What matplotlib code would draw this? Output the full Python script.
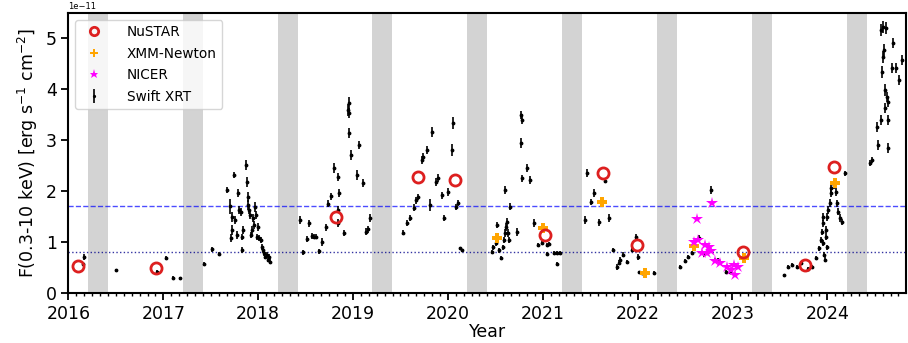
import numpy as np
import matplotlib
matplotlib.use('Agg')
import matplotlib.pyplot as plt
from matplotlib.ticker import MultipleLocator, FormatStrFormatter

# fluxes in units of 1e-11 erg/s/cm2, time in decimal years
nustar_t = [2016.10, 2016.92, 2018.82, 2019.68, 2020.07, 2021.02, 2021.64, 2021.99, 2023.11, 2023.77, 2024.07]
nustar_f = [0.53, 0.49, 1.49, 2.27, 2.22, 1.14, 2.35, 0.94, 0.80, 0.55, 2.47]

xmm_t = [2020.52, 2021.00, 2021.63, 2022.08, 2022.59, 2023.12, 2024.08]
xmm_f = [1.08, 1.27, 1.78, 0.39, 0.92, 0.69, 2.15]

nicer_t = [2022.59, 2022.63, 2022.78, 2022.64, 2022.68, 2022.75, 2022.73, 2022.82,
           2022.87, 2022.94, 2022.99, 2023.03, 2023.06, 2023.02, 2022.71, 2022.77]
nicer_f = [1.00, 1.45, 1.77, 1.04, 0.78, 0.90, 0.78, 0.63,
           0.59, 0.51, 0.45, 0.35, 0.51, 0.55, 0.95, 0.82]

swift_t = [2016.15, 2016.16, 2016.50, 2016.93, 2017.03, 2017.10, 2017.18, 2017.43, 2017.51, 2017.59,
           2017.67, 2017.75, 2017.70, 2017.72, 2017.72, 2017.71, 2017.76, 2017.78, 2017.79, 2017.80,
           2017.82, 2017.83, 2017.83, 2017.84, 2017.87, 2017.88, 2017.89, 2017.89, 2017.90, 2017.91,
           2017.92, 2017.93, 2017.95, 2017.96, 2017.97, 2017.98, 2017.99, 2018.00, 2018.01, 2018.03,
           2018.04, 2018.05, 2018.06, 2018.07, 2018.09, 2018.10, 2018.11, 2018.12,
           2018.44, 2018.47, 2018.51, 2018.54, 2018.57, 2018.59, 2018.61, 2018.64, 2018.67, 2018.71,
           2018.74, 2018.77, 2018.80, 2018.84, 2018.85, 2018.84, 2018.84, 2018.90, 2018.95, 2018.96,
           2018.96, 2018.96, 2018.98, 2019.06, 2019.04, 2019.10, 2019.14, 2019.16, 2019.18,
           2019.53, 2019.57, 2019.60, 2019.64, 2019.66, 2019.68, 2019.73, 2019.74, 2019.78, 2019.81,
           2019.83, 2019.87, 2019.90, 2019.94, 2019.96, 2020.00, 2020.04, 2020.05, 2020.09, 2020.11,
           2020.13, 2020.15,
           2020.47, 2020.48, 2020.51, 2020.52, 2020.54, 2020.56, 2020.58, 2020.59, 2020.60, 2020.61,
           2020.62, 2020.63, 2020.64, 2020.60, 2020.66, 2020.73, 2020.77, 2020.78, 2020.77, 2020.78,
           2020.83, 2020.87, 2020.91, 2020.95, 2020.99, 2021.04, 2021.07, 2021.05, 2021.12, 2021.15,
           2021.15, 2021.18,
           2021.45, 2021.47, 2021.51, 2021.54, 2021.59, 2021.66, 2021.70, 2021.74, 2021.78, 2021.80,
           2021.82, 2021.85, 2021.89, 2021.94, 2021.98, 2022.00, 2022.01, 2022.05, 2022.17,
           2022.45, 2022.50, 2022.53, 2022.57, 2022.65, 2022.70, 2022.77, 2022.82, 2022.85, 2022.93,
           2022.97,
           2023.54, 2023.59, 2023.63, 2023.68, 2023.72, 2023.80, 2023.84, 2023.88, 2023.91, 2023.93,
           2023.94, 2023.96, 2023.95, 2023.96, 2023.97, 2023.98, 2023.99, 2023.99, 2024.00, 2024.01,
           2024.03, 2024.04, 2024.04, 2024.07, 2024.09, 2024.10, 2024.11, 2024.13, 2024.15, 2024.19,
           2024.00,
           2024.45, 2024.47, 2024.52, 2024.54, 2024.57, 2024.64, 2024.64, 2024.57, 2024.59, 2024.62,
           2024.60, 2024.59, 2024.58, 2024.61, 2024.63, 2024.64, 2024.69, 2024.68, 2024.72, 2024.76,
           2024.79, 2024.61]
swift_f = [0.56, 0.71, 0.45, 0.42, 0.69, 0.30, 0.29, 0.57, 0.86, 0.76,
           2.02, 2.31, 1.70, 1.49, 1.24, 1.08, 1.43, 1.14, 1.96, 1.63,
           1.59, 1.10, 0.84, 1.24, 2.51, 2.18, 1.88, 1.73, 1.63, 1.53,
           1.14, 1.24, 1.47, 1.33, 1.69, 1.53, 1.10, 1.29, 1.08, 1.04,
           0.90, 0.84, 0.78, 0.71, 0.75, 0.65, 0.71, 0.61,
           1.43, 0.80, 1.06, 1.37, 1.12, 1.10, 1.10, 0.82, 1.00, 1.29,
           1.75, 1.90, 2.45, 2.27, 1.96, 1.63, 1.37, 1.18, 3.59, 3.73,
           3.53, 3.14, 2.71, 2.90, 2.31, 2.16, 1.20, 1.25, 1.47,
           1.18, 1.37, 1.47, 1.67, 1.82, 1.88, 2.61, 2.67, 2.80, 1.73,
           3.16, 2.18, 2.25, 1.92, 1.47, 1.98, 2.80, 3.33, 1.69, 1.76,
           0.88, 0.84,
           0.80, 0.90, 0.98, 1.33, 0.84, 0.69, 0.90, 1.04, 1.18, 1.29,
           1.39, 1.18, 1.04, 2.02, 1.69, 1.20, 3.49, 3.39, 2.94, 2.25,
           2.45, 2.22, 1.37, 0.94, 0.98, 0.94, 0.96, 0.76, 0.78, 0.78,
           0.57, 0.78,
           1.43, 2.35, 1.78, 1.96, 1.39, 2.20, 1.47, 0.84, 0.51, 0.59,
           0.65, 0.75, 0.61, 0.84, 1.10, 0.71, 0.41, 0.39, 0.39,
           0.51, 0.63, 0.71, 0.78, 1.08, 0.76, 2.02, 0.65, 0.65, 0.41,
           0.41,
           0.35, 0.51, 0.55, 0.51, 0.59, 0.47, 0.51, 0.69, 0.88, 1.04,
           1.20, 1.37, 1.49, 0.98, 0.75, 0.65, 1.10, 1.24, 1.49, 1.63,
           1.76, 1.96, 2.06, 2.12, 1.98, 1.76, 1.59, 1.47, 1.39, 2.35,
           0.90,
           2.55, 2.61, 3.25, 2.90, 3.39, 3.39, 2.84, 5.16, 5.22, 5.20,
           4.76, 4.63, 4.33, 3.98, 3.84, 3.75, 4.90, 4.41, 4.41, 4.18,
           4.57, 3.63]
swift_e = [0.03, 0.06, 0.03, 0.03, 0.04, 0.03, 0.03, 0.04, 0.05, 0.04,
           0.06, 0.06, 0.15, 0.10, 0.10, 0.08, 0.08, 0.08, 0.08, 0.08,
           0.08, 0.06, 0.06, 0.08, 0.10, 0.10, 0.10, 0.10, 0.08, 0.08,
           0.06, 0.08, 0.08, 0.08, 0.10, 0.08, 0.06, 0.08, 0.06, 0.06,
           0.06, 0.05, 0.05, 0.05, 0.05, 0.05, 0.05, 0.05,
           0.07, 0.05, 0.06, 0.07, 0.06, 0.05, 0.05, 0.05, 0.07, 0.07,
           0.07, 0.07, 0.10, 0.08, 0.08, 0.07, 0.08, 0.06, 0.12, 0.12,
           0.10, 0.10, 0.10, 0.08, 0.10, 0.08, 0.07, 0.07, 0.07,
           0.05, 0.06, 0.06, 0.07, 0.07, 0.06, 0.08, 0.08, 0.08, 0.12,
           0.10, 0.08, 0.08, 0.07, 0.06, 0.07, 0.12, 0.12, 0.06, 0.06,
           0.03, 0.03,
           0.04, 0.05, 0.05, 0.06, 0.05, 0.04, 0.05, 0.06, 0.08, 0.08,
           0.08, 0.08, 0.06, 0.08, 0.07, 0.08, 0.08, 0.08, 0.10, 0.07,
           0.08, 0.08, 0.08, 0.04, 0.04, 0.04, 0.04, 0.04, 0.04, 0.04,
           0.04, 0.04,
           0.08, 0.08, 0.06, 0.08, 0.07, 0.05, 0.07, 0.04, 0.05, 0.05,
           0.05, 0.05, 0.04, 0.04, 0.05, 0.06, 0.03, 0.03, 0.04,
           0.03, 0.04, 0.04, 0.04, 0.05, 0.05, 0.08, 0.04, 0.04, 0.04,
           0.04,
           0.03, 0.03, 0.03, 0.03, 0.03, 0.03, 0.03, 0.04, 0.05, 0.06,
           0.06, 0.07, 0.07, 0.06, 0.05, 0.05, 0.07, 0.07, 0.08, 0.08,
           0.08, 0.08, 0.08, 0.08, 0.08, 0.07, 0.07, 0.07, 0.06, 0.05,
           0.05,
           0.06, 0.06, 0.10, 0.10, 0.10, 0.10, 0.10, 0.12, 0.12, 0.12,
           0.12, 0.12, 0.12, 0.12, 0.10, 0.10, 0.10, 0.10, 0.10, 0.10,
           0.10, 0.10]

years = list(range(2016, 2025))
sun_start, sun_end = 0.205, 0.415   # fraction of year, Sun-constraint gap
level_high = 1.7
level_low = 0.8

fig = plt.figure(figsize=(9.08, 3.43), dpi=100)
ax = fig.add_axes([0.0754, 0.1458, 0.9224, 0.8163])

for y in years:
    ax.axvspan(y + sun_start, y + sun_end, color='lightgrey', lw=0, zorder=0)

ax.axhline(level_high, color='blue', ls='--', lw=1, alpha=0.7, zorder=1)
ax.axhline(level_low, color='darkblue', ls=':', lw=1, alpha=0.8, zorder=1)

ax.errorbar(swift_t, swift_f, yerr=swift_e, fmt='.', color='k', ms=3.5,
            elinewidth=1.2, capsize=0, label='Swift XRT', zorder=3)
ax.plot(nustar_t, nustar_f, 'o', mfc='none', mec='#dd1f1f', mew=2,
        ms=8, label='NuSTAR', zorder=5)
ax.plot(xmm_t, xmm_f, 'P', color='orange', ms=7, mew=0,
        label='XMM-Newton', zorder=4)
ax.plot(nicer_t, nicer_f, '*', color='magenta', ms=9, mew=0,
        label='NICER', zorder=4)

ax.set_xlim(2016, 2024.83)
ax.set_ylim(0, 5.49)
ax.xaxis.set_major_locator(MultipleLocator(1))
ax.xaxis.set_minor_locator(MultipleLocator(1 / 12))
ax.xaxis.set_major_formatter(FormatStrFormatter('%d'))
ax.tick_params(labelsize=12.5, width=1.3, length=5)
ax.tick_params(which='minor', length=2.5, width=1)
for s in ax.spines.values():
    s.set_linewidth(1.5)
# scale factor, drawn like matplotlib's offset text
ax.text(0, 1.008, '1e\u221211', transform=ax.transAxes, fontsize=6, ha='left', va='bottom')

ax.set_xlabel('Year', fontsize=12.5, labelpad=0)
ax.set_ylabel(r'F(0.3-10 keV) [erg s$^{-1}$ cm$^{-2}$]', fontsize=12.5, labelpad=4)

h, l = ax.get_legend_handles_labels()
order = [l.index(n) for n in ['NuSTAR', 'XMM-Newton', 'NICER', 'Swift XRT']]
ax.legend([h[i] for i in order], [l[i] for i in order], loc='upper left',
          fontsize=9.8, borderaxespad=0.5, markerscale=0.75, handletextpad=1.4,
          labelspacing=0.55)

fig.savefig('out.png', dpi=100)
